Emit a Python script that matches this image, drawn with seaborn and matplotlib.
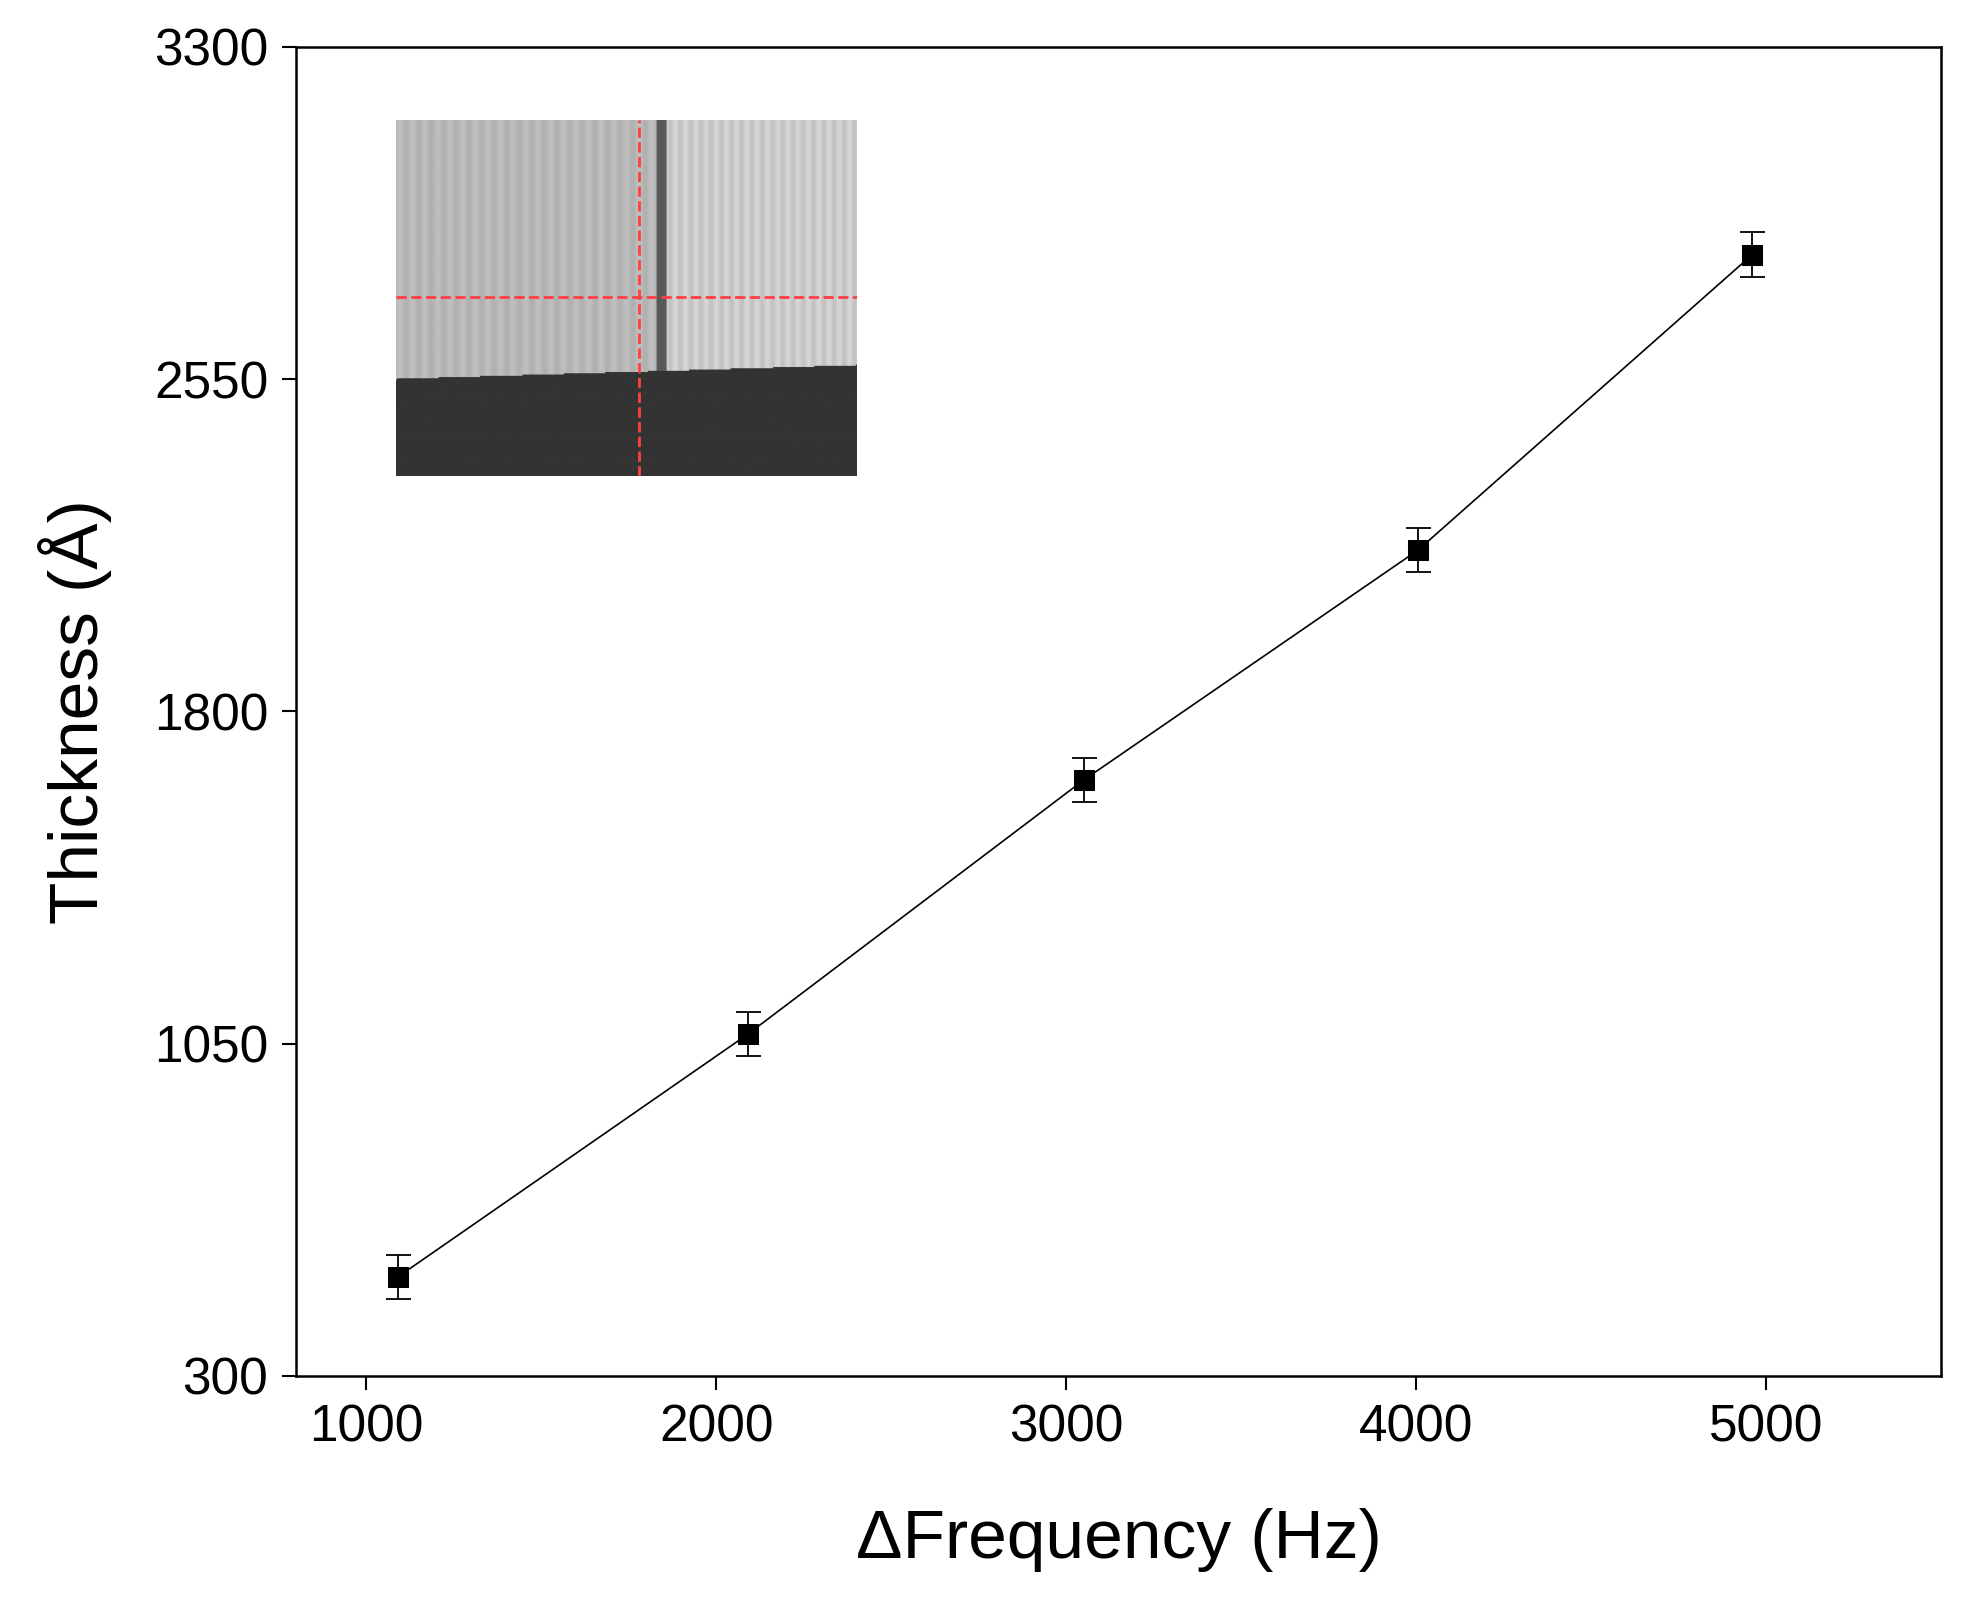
import numpy as np
import seaborn as sns
import matplotlib.pyplot as plt

# Data
freq = [1090, 2090, 3050, 4005, 4960]
thickness = [523, 1071, 1645, 2164, 2831]
err = [50, 50, 50, 50, 50]
x_ticks = [1000, 2000, 3000, 4000, 5000]
y_ticks = [300, 1050, 1800, 2550, 3300]

sns.set_style('ticks')
plt.rcParams['font.family'] = ['Liberation Sans', 'DejaVu Sans']
plt.rcParams['text.color'] = 'black'
plt.rcParams['axes.labelcolor'] = 'black'
plt.rcParams['xtick.color'] = 'black'
plt.rcParams['ytick.color'] = 'black'
plt.rcParams['axes.edgecolor'] = 'black'

fig, ax = plt.subplots(figsize=(19.61, 16.13), dpi=100)
fig.subplots_adjust(left=0.151, right=0.99, top=0.971, bottom=0.147)

sns.lineplot(x=freq, y=thickness, ax=ax, color='black', linewidth=1.2,
             marker='s', markersize=15, markeredgecolor='black')
ax.errorbar(freq, thickness, yerr=err, fmt='none', ecolor='black',
            elinewidth=1.3, capsize=9, capthick=1.3)

ax.set_xlim(800, 5500)
ax.set_ylim(300, 3300)
ax.set_xticks(x_ticks)
ax.set_yticks(y_ticks)
ax.tick_params(direction='out', length=10, width=1.5, labelsize=37, pad=10)
for s in ax.spines.values():
    s.set_linewidth(1.8)
ax.set_xlabel('ΔFrequency (Hz)', fontsize=50, labelpad=40)
ax.set_ylabel('Thickness (Å)', fontsize=50, labelpad=30)

# Inset micrograph (synthetic)
ins = ax.inset_axes([0.061, 0.677, 0.28, 0.268])
h, w = 285, 368
cols = np.arange(w)
img = np.full((h, w), 0.72)
img += (0.03 * np.sin(cols / 1.6))[None, :]
img[:, 215:] = 0.80 + 0.04 * np.sin(cols[215:] / 1.3)[None, :]
img[:, 208:216] = 0.35
edge = 208 - 0.03 * cols
for c in cols:
    img[int(edge[c]):, c] = 0.2
ins.imshow(img, cmap='gray', vmin=0, vmax=1, aspect='auto')
ins.axvline(193, color='#ff4040', linestyle='--', linewidth=2)
ins.axhline(141, color='#ff4040', linestyle='--', linewidth=2)
ins.set_xticks([])
ins.set_yticks([])
for s in ins.spines.values():
    s.set_visible(False)

plt.savefig('out.png', dpi=100)
